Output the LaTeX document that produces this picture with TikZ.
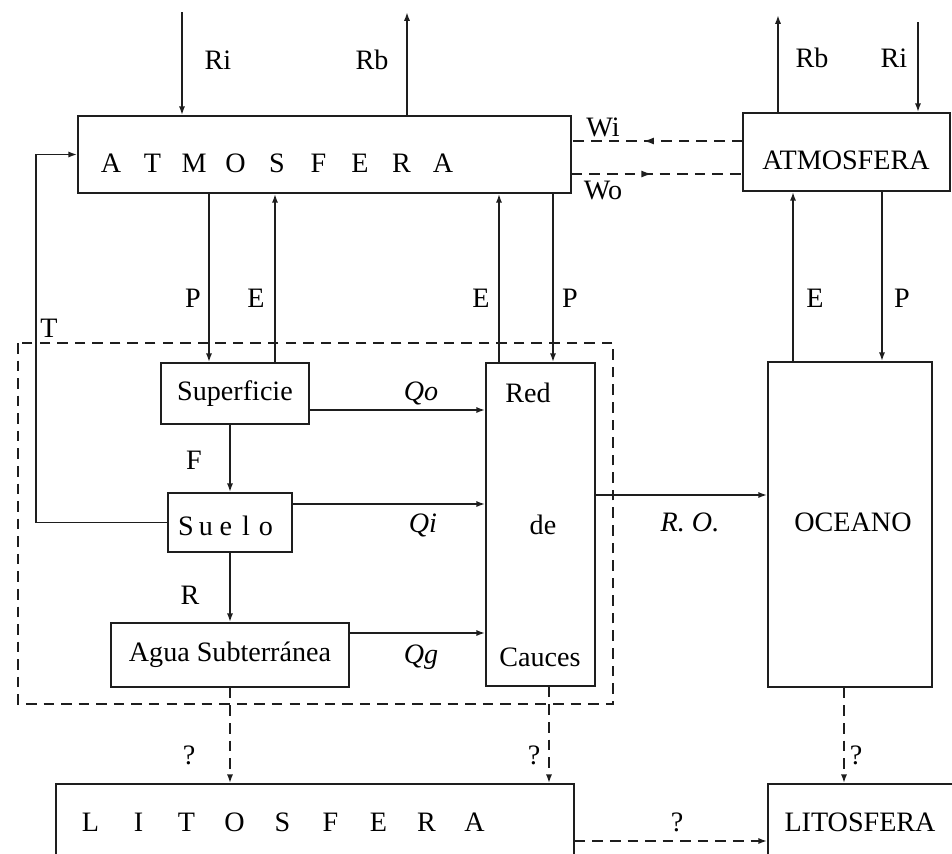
\documentclass[tikz,border=0pt]{standalone}
\usepackage{fontspec}
\setmainfont{Liberation Serif}
\usepackage{xcolor}
\usepackage{tikz}
\usetikzlibrary{arrows.meta,decorations.markings}
\definecolor{figline}{RGB}{30,30,30}
\newcommand{\lspaced}[2]{\foreach \c in {#2}{\makebox[#1]{\c}}}
\tikzset{
  box/.style  ={draw=figline, line width=1pt, inner sep=0pt},
  lab/.style  ={font=\fontsize{16}{19}\selectfont, inner sep=1pt},
  labi/.style ={font=\fontsize{16}{19}\selectfont\itshape, inner sep=1pt},
  flw/.style  ={draw=figline, line width=1pt, -{Latex[length=5pt,width=3.5pt]}},
  dsh/.style  ={draw=figline, line width=1pt, dash pattern=on 6pt off 4pt},
  dflw/.style ={dsh, -{Latex[length=5pt,width=3.5pt]}},
  midl/.style ={dsh, postaction={decorate}, decoration={markings,
      mark=at position #1 with {\arrow{Latex[length=6pt,width=4pt]}}}},
}

\begin{document}
\begin{tikzpicture}[x=0.02cm,y=-0.02cm]
  \useasboundingbox (0,0) rectangle (952,853);
  \clip (0,0) rectangle (952,853);
  % boxes
  \node[box,minimum width=9.86cm,minimum height=1.54cm] (atm) at (324.5,154.5) {};
  \node[lab] (atmlab) at (277,163) {\lspaced{0.83cm}{A,T,M,O,S,F,E,R,A}};
  \node[box,minimum width=4.14cm,minimum height=1.56cm] (atmR) at (846.5,152) {};
  \node[lab] (atmRlab) at (846,160) {ATMOSFERA};
  \node[box,lab,minimum width=2.96cm,minimum height=1.22cm] (sup) at (235,393.5) {Superficie};
  \node[box,minimum width=2.48cm,minimum height=1.18cm] (sue) at (230,522.5) {};
  \node[lab] (suelab) at (226,526) {\lspaced{0.4cm}{S,u,e,l,o}};
  \node[box,lab,minimum width=4.76cm,minimum height=1.28cm] (agu) at (230,655) {Agua Subterránea};
  \node[box,minimum width=2.18cm,minimum height=6.46cm] (red) at (540.5,524.5) {};
  \node[lab] (redlab1) at (528,393) {Red};
  \node[lab] (redlab2) at (543,525) {de};
  \node[lab] (redlab3) at (540,657) {Cauces};
  \node[box,minimum width=3.28cm,minimum height=6.5cm] (oce) at (850,524.5) {};
  \node[lab] (ocelab) at (853,522) {OCEANO};
  \node[box,minimum width=10.36cm,minimum height=2.32cm] (litL) at (315,842) {};
  \node[lab] (litLlab) at (282.5,822) {\lspaced{0.96cm}{L,I,T,O,S,F,E,R,A}};
  \node[box,minimum width=4.44cm,minimum height=2.32cm] (litR) at (879,842) {};
  \node[lab] (litRlab) at (860,822) {LITOSFERA};
  % cuenca
  \draw[dsh] (18,343) rectangle (613,704);
  % radiacion
  \coordinate (riT) at (182,12);
  \coordinate (rbT) at (407,12);
  \coordinate (rbT2) at (778,15);
  \coordinate (riT2) at (918,22);
  \draw[flw] (riT) -- (riT |- atm.north);
  \draw[flw] (rbT |- atm.north) -- (rbT);
  \draw[flw] (rbT2 |- atmR.north) -- (rbT2);
  \draw[flw] (riT2) -- (riT2 |- atmR.north);
  \node[lab] (ri) at (218,60) {Ri};
  \node[lab] (rb) at (372,60) {Rb};
  \node[lab] (rb2) at (812,58) {Rb};
  \node[lab] (ri2) at (894,58) {Ri};
  % vapor
  \coordinate (yWi) at (0,141);
  \coordinate (yWo) at (0,174);
  \draw[midl=0.58] (atmR.west |- yWi) -- (atm.east |- yWi);
  \draw[midl=0.47] (atm.east |- yWo) -- (atmR.west |- yWo);
  \node[lab] (wi) at (603,127) {Wi};
  \node[lab] (wo) at (603,191) {Wo};
  % precipitacion y evaporacion
  \coordinate (xPl) at (209,0);
  \coordinate (xEl) at (275,0);
  \coordinate (xEr) at (499,0);
  \coordinate (xPr) at (553,0);
  \coordinate (xEo) at (793,0);
  \coordinate (xPo) at (882,0);
  \draw[flw] (atm.south -| xPl) -- (sup.north -| xPl);
  \draw[flw] (sup.north -| xEl) -- (atm.south -| xEl);
  \draw[flw] (red.north -| xEr) -- (atm.south -| xEr);
  \draw[flw] (atm.south -| xPr) -- (red.north -| xPr);
  \draw[flw] (oce.north -| xEo) -- (atmR.south -| xEo);
  \draw[flw] (atmR.south -| xPo) -- (oce.north -| xPo);
  \node[lab] (p1) at (193,298) {P};
  \node[lab] (e1) at (256,298) {E};
  \node[lab] (e2) at (481,298) {E};
  \node[lab] (p2) at (570,298) {P};
  \node[lab] (e3) at (815,298) {E};
  \node[lab] (p3) at (902,298) {P};
  % transpiracion
  \coordinate (xT) at (36,0);
  \draw[flw] (sue.west) -| (xT |- atm.west) -- (atm.west);
  \node[lab] (t) at (49,328) {T};
  % infiltracion y recarga
  \draw[flw] (sup.south -| sue.north) -- (sue.north);
  \draw[flw] (sue.south) -- (agu.north);
  \node[lab] (f) at (194,460) {F};
  \node[lab] (r) at (190,595) {R};
  % escorrentia
  \coordinate (yQo) at (0,410);
  \coordinate (yQi) at (0,504);
  \coordinate (yQg) at (0,633);
  \coordinate (yRO) at (0,495);
  \draw[flw] (sup.east |- yQo) -- (red.west |- yQo);
  \draw[flw] (sue.east |- yQi) -- (red.west |- yQi);
  \draw[flw] (agu.east |- yQg) -- (red.west |- yQg);
  \draw[flw] (red.east |- yRO) -- (oce.west |- yRO);
  \node[labi] (qo) at (421,393) {Qo};
  \node[labi] (qi) at (423,525) {Qi};
  \node[labi] (qg) at (421,657) {Qg};
  \node[labi] (ro) at (690,522) {R. O.};
  % litosfera
  \coordinate (xq2) at (549,0);
  \coordinate (xq3) at (844,0);
  \coordinate (yq4) at (0,841);
  \draw[dflw] (agu.south) -- (agu.south |- litL.north);
  \draw[dflw] (red.south -| xq2) -- (litL.north -| xq2);
  \draw[dflw] (oce.south -| xq3) -- (litR.north -| xq3);
  \draw[dflw] (litL.east |- yq4) -- (litR.west |- yq4);
  \node[lab] (q1) at (189,755) {?};
  \node[lab] (q2) at (534,755) {?};
  \node[lab] (q3) at (856,755) {?};
  \node[lab] (q4) at (677,822) {?};
\end{tikzpicture}
\end{document}
